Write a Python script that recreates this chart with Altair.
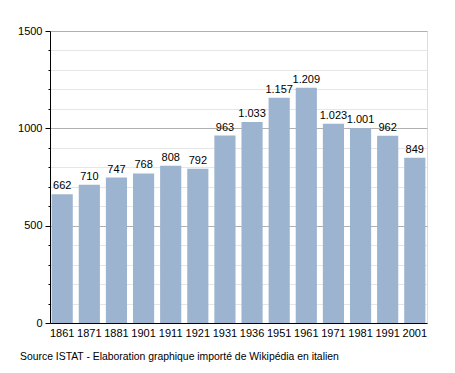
import altair as alt
import pandas as pd

years = ["1861", "1871", "1881", "1901", "1911", "1921", "1931", "1936",
         "1951", "1961", "1971", "1981", "1991", "2001"]
population = [662, 710, 747, 768, 808, 792, 963, 1033, 1157, 1209, 1023, 1001, 962, 849]
labels = ["662", "710", "747", "768", "808", "792", "963", "1.033", "1.157",
          "1.209", "1.023", "1.001", "962", "849"]
y_ticks = list(range(0, 1501, 100))

df = pd.DataFrame({"year": years, "pop": population, "label": labels})

FONT = "Liberation Sans"

base = alt.Chart(df).encode(
    x=alt.X("year:N", sort=years, title=None,
            scale=alt.Scale(paddingInner=0.22, paddingOuter=0.06),
            axis=alt.Axis(labelAngle=0, ticks=False, domainColor="black",
                          labelColor="black", labelFontSize=11, labelFont=FONT,
                          labelPadding=4, grid=False)),
    y=alt.Y("pop:Q", title=None,
            scale=alt.Scale(domain=[0, 1500], nice=False),
            axis=alt.Axis(values=y_ticks,
                          labelExpr="datum.value % 500 == 0 ? datum.value : ''",
                          domainColor="black", tickColor="black",
                          tickSize=alt.condition("datum.value % 500 == 0", alt.value(5), alt.value(2)),
                          gridColor=alt.condition("datum.value % 500 == 0", alt.value("#b0b0b0"), alt.value("#e6e6e6")),
                          labelColor="black", labelFontSize=11, labelFont=FONT,
                          labelPadding=3)),
)

bars = base.mark_bar(color="#9cb4cf")
text = base.mark_text(dy=-8, fontSize=11, font=FONT, color="black").encode(text="label:N")

chart = (bars + text).properties(
    width=377, height=292,
    padding={"left": 42, "top": 23, "right": 20, "bottom": 50},
    autosize=alt.AutoSizeParams(type="none"),
    title=alt.Title("Source ISTAT - Elaboration graphique importé de Wikipédia en italien",
                    orient="bottom", anchor="start", frame="group", dx=-30, offset=14,
                    fontSize=10.4, font=FONT, fontWeight="normal", color="black"),
).configure_view(stroke=None).configure(background="white")

chart.save("out.html", embed_options={"renderer": "svg", "actions": False})
